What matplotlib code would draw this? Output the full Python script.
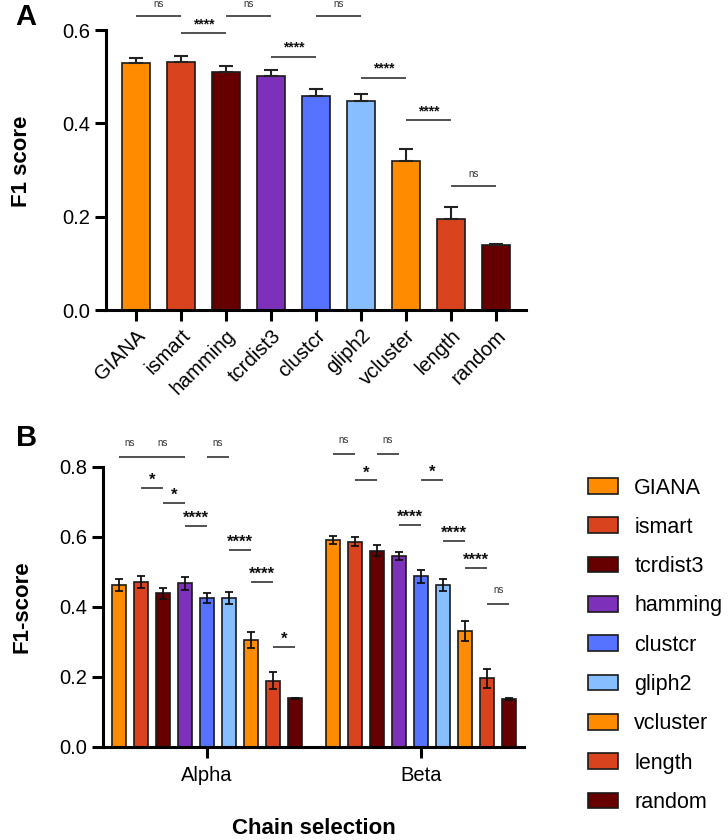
import matplotlib
matplotlib.use("Agg")
import matplotlib.pyplot as plt
import matplotlib.transforms as mtransforms
from matplotlib.patches import Patch
import numpy as np

plt.rcParams['font.family'] = ['Liberation Sans', 'DejaVu Sans']

# ---------------- data ----------------
methods_a = ["GIANA", "ismart", "hamming", "tcrdist3", "clustcr", "gliph2", "vcluster", "length", "random"]
f1_a = [0.530, 0.532, 0.509, 0.502, 0.459, 0.448, 0.320, 0.195, 0.139]
err_a = [0.011, 0.012, 0.013, 0.012, 0.015, 0.015, 0.026, 0.026, 0.002]

methods_b = ["GIANA", "ismart", "tcrdist3", "hamming", "clustcr", "gliph2", "vcluster", "length", "random"]
chains = ["Alpha", "Beta"]
f1_alpha = [0.462, 0.471, 0.438, 0.467, 0.424, 0.425, 0.305, 0.189, 0.138]
err_alpha = [0.017, 0.018, 0.015, 0.018, 0.014, 0.016, 0.023, 0.024, 0.002]
f1_beta = [0.591, 0.586, 0.560, 0.545, 0.487, 0.463, 0.331, 0.195, 0.136]
err_beta = [0.012, 0.012, 0.015, 0.011, 0.018, 0.017, 0.029, 0.026, 0.002]

colors = ["#FF8C00", "#D9441F", "#660000", "#7D31BA", "#5673FF",
          "#87BEFF", "#FF8C00", "#D9441F", "#660000"]

# significance annotations: (bar i, bar j, height, label)
sig_a = [(0, 1, 0.631, "ns"), (1, 2, 0.594, "****"), (2, 3, 0.631, "ns"),
         (3, 4, 0.543, "****"), (4, 5, 0.631, "ns"), (5, 6, 0.498, "****"),
         (6, 7, 0.407, "****"), (7, 8, 0.266, "ns")]
sig_alpha = [(0, 1, 0.829, "ns"), (1, 3, 0.829, "ns"), (4, 5, 0.829, "ns"),
             (1, 2, 0.739, "*"), (2, 3, 0.697, "*"), (3, 4, 0.631, "****"),
             (5, 6, 0.563, "****"), (6, 7, 0.471, "****"), (7, 8, 0.286, "*")]
sig_beta = [(0, 1, 0.836, "ns"), (1, 2, 0.761, "*"), (2, 3, 0.836, "ns"),
            (4, 5, 0.763, "*"), (3, 4, 0.633, "****"), (5, 6, 0.588, "****"),
            (6, 7, 0.511, "****"), (7, 8, 0.409, "ns")]

# ---------------- figure ----------------
W, H = 728, 840
fig = plt.figure(figsize=(W / 100, H / 100), dpi=100)

SPINE_LW = 2.2
EDGE = "#1a1a1a"


def style_axes(ax):
    for s in ["top", "right"]:
        ax.spines[s].set_visible(False)
    for s in ["left", "bottom"]:
        ax.spines[s].set_linewidth(SPINE_LW)
        ax.spines[s].set_color("black")
    ax.tick_params(axis="both", direction="out", length=8, width=SPINE_LW,
                   labelsize=14.5, pad=3.5, color="black")


def add_sig(ax, xs, items, font_ns=7, font_star=12, off_ns=6.0, off_star=0.0):
    for i, j, y, lab in items:
        ax.plot([xs[i], xs[j]], [y, y], color="#222222", lw=1.1, clip_on=False,
                solid_capstyle="butt")
        if lab == "ns":
            ax.annotate(lab, xy=((xs[i] + xs[j]) / 2, y), xytext=(0, off_ns),
                        textcoords="offset points", ha="center", va="bottom",
                        fontsize=font_ns, color="#333333", annotation_clip=False)
        else:
            ax.annotate(lab, xy=((xs[i] + xs[j]) / 2, y), xytext=(0, off_star),
                        textcoords="offset points", ha="center", va="bottom",
                        fontsize=font_star, fontweight="bold", color="#111111",
                        annotation_clip=False)


# ---------------- panel A ----------------
axA = fig.add_axes([106 / W, 1 - 310 / H, (526 - 106) / W, 280 / H])
xa = np.arange(len(methods_a))
axA.bar(xa, f1_a, width=0.636, color=colors, edgecolor=EDGE, linewidth=1.2, zorder=2)
axA.errorbar(xa, f1_a, yerr=[np.zeros(len(err_a)), err_a], fmt="none",
             ecolor="#222222", elinewidth=1.5, capsize=5, capthick=1.5, zorder=3)
axA.set_xlim(-0.667, 8.667)
axA.set_ylim(0, 0.6)
axA.set_yticks([0.0, 0.2, 0.4, 0.6])
axA.set_yticklabels(["0.0", "0.2", "0.4", "0.6"])
axA.set_xticks(xa)
axA.set_xticklabels(methods_a, rotation=45, ha="right", va="top", rotation_mode="anchor")
shift = mtransforms.ScaledTranslation(-5 / 100, -3 / 100, fig.dpi_scale_trans)
for lbl in axA.get_xticklabels():
    lbl.set_transform(lbl.get_transform() + shift)
style_axes(axA)
add_sig(axA, xa, sig_a, font_ns=7, font_star=10, off_ns=4.6, off_star=1.2)
fig.text(22 / W, 1 - 161 / H, "F1 score", rotation=90, ha="center", va="center",
         fontsize=16, fontweight="bold")
fig.text(26 / W, 1 - 17 / H, "A", ha="center", va="center", fontsize=21, fontweight="bold")

# ---------------- panel B ----------------
axB = fig.add_axes([103.3 / W, 1 - 746.7 / H, (524 - 103.3) / W, 280 / H])
spacing = 0.1033
bw = 0.0654
offs = (np.arange(len(methods_b)) - 4) * spacing
for g, (vals, errs, sigs) in enumerate([(f1_alpha, err_alpha, sig_alpha),
                                        (f1_beta, err_beta, sig_beta)]):
    xs = g + offs
    axB.bar(xs, vals, width=bw, color=colors, edgecolor=EDGE, linewidth=1.2, zorder=2)
    axB.errorbar(xs, vals, yerr=errs, fmt="none", ecolor="#111111",
                 elinewidth=1.3, capsize=3, capthick=1.3, zorder=3)
    add_sig(axB, xs, sigs, font_ns=7, font_star=12, off_ns=6.5, off_star=0.0)
axB.set_xlim(-0.4846, 1.4813)
axB.set_ylim(0, 0.8)
axB.set_yticks([0.0, 0.2, 0.4, 0.6, 0.8])
axB.set_yticklabels(["0.0", "0.2", "0.4", "0.6", "0.8"])
axB.set_xticks([0, 1])
axB.set_xticklabels(chains)
style_axes(axB)
axB.tick_params(axis="x", pad=6)
axB.set_xlabel("Chain selection", fontsize=16, fontweight="bold", labelpad=24)
fig.text(22 / W, 1 - 606.7 / H, "F1-score", rotation=90, ha="center", va="center",
         fontsize=16, fontweight="bold")
fig.text(26.5 / W, 1 - 438 / H, "B", ha="center", va="center", fontsize=21, fontweight="bold")

handles = [Patch(facecolor=c, edgecolor=EDGE, linewidth=1.2, label=m)
           for c, m in zip(colors, methods_b)]
fig.legend(handles=handles, loc="upper left", bbox_to_anchor=(588 / W, 1 - 477.5 / H),
           frameon=False, fontsize=15.5, handlelength=1.4, handleheight=0.74,
           handletextpad=0.75, labelspacing=0.85, borderpad=0, borderaxespad=0)

fig.savefig("out.png", dpi=100)
